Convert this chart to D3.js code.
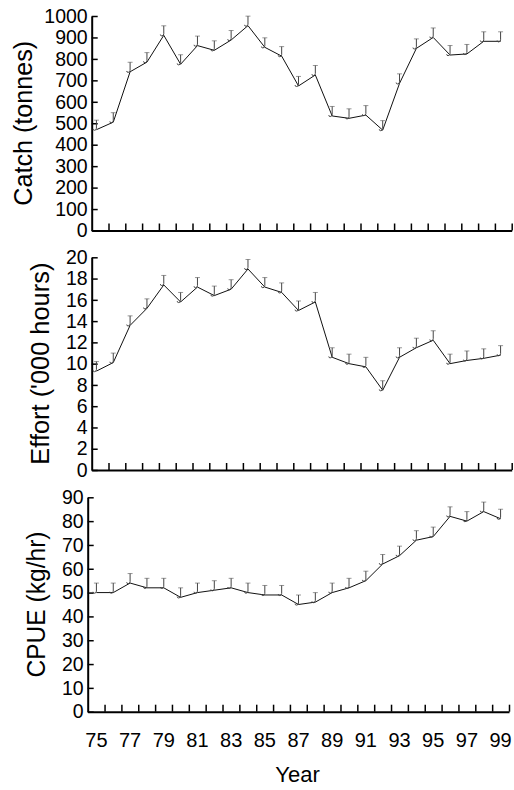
<!DOCTYPE html>
<html>
<head>
<meta charset="utf-8">
<script src="https://cdn.jsdelivr.net/npm/d3@7"></script>
<style>
  body { margin: 0; background: #fff; }
  svg { display: block; font-family: "Liberation Sans", Arial, sans-serif; }
</style>
</head>
<body>
<div id="container"></div>
<script>
// Years (two digit) and the three series
const years = ['75','76','77','78','79','80','81','82','83','84','85','86','87',
               '88','89','90','91','92','93','94','95','96','97','98','99'];
const yearLabels = ['75','77','79','81','83','85','87','89','91','93','95','97','99'];

const catchTonnes = [470, 505, 740, 785, 910, 775, 862, 840, 888, 955, 854, 813, 674,
                     725, 534, 523, 538, 468, 686, 849, 900, 818, 823, 882, 882];
const effortHours = [9.3, 10.1, 13.6, 15.2, 17.4, 15.8, 17.2, 16.4, 17.0, 18.9, 17.2, 16.7, 15.0,
                     15.8, 10.6, 10.0, 9.7, 7.5, 10.6, 11.5, 12.2, 10.0, 10.3, 10.5, 10.8];
const cpueKgHr = [50, 50, 54, 52, 52, 48, 50, 51, 52, 50, 49, 49, 45,
                  46, 50, 52, 55, 62, 65.5, 72, 73.5, 82, 80, 84, 81];

const catchTicks = [0, 100, 200, 300, 400, 500, 600, 700, 800, 900, 1000];
const effortTicks = [0, 2, 4, 6, 8, 10, 12, 14, 16, 18, 20];
const cpueTicks = [0, 10, 20, 30, 40, 50, 60, 70, 80, 90];

const width = 514, height = 790;

const svg = d3.select('#container')
    .append('svg')
    .attr('width', width)
    .attr('height', height);

// shared x scale for the data points (band centres)
const xData = d3.scaleBand().domain(years).range([88, 509]);
const xMid = d => xData(d) + xData.bandwidth() / 2;

const panels = [
    { title: 'Catch (tonnes)', values: catchTonnes, ticks: catchTicks, max: 1000,
      top: 16, bottom: 230.5, left: 91.7, right: 511.7, titleX: 22.5, titleLen: 165 },
    { title: "Effort ('000 hours)", values: effortHours, ticks: effortTicks, max: 20,
      top: 257.3, bottom: 470, left: 91.7, right: 511.7, titleX: 40.2, titleLen: 202 },
    { title: 'CPUE (kg/hr)', values: cpueKgHr, ticks: cpueTicks, max: 90,
      top: 497.3, bottom: 711.7, left: 87.7, right: 509, titleX: 35.8, titleLen: 146 }
];

panels.forEach((p, i) => {
    const g = svg.append('g');
    const y = d3.scaleLinear().domain([0, p.max]).range([p.bottom, p.top]);

    // y axis, ticks pointing inwards
    const yAxis = g.append('g')
        .attr('transform', `translate(${p.left},0)`)
        .call(d3.axisLeft(y).tickValues(p.ticks).tickFormat(d3.format('d'))
            .tickSize(-6).tickSizeOuter(0).tickPadding(4));
    yAxis.select('.domain').attr('stroke-width', 2);
    yAxis.selectAll('.tick line').attr('stroke-width', 1.5);
    yAxis.selectAll('text').attr('font-size', '19.5px').attr('fill', '#000');

    // x axis frame, ticks at the year boundaries
    const xFrame = d3.scaleLinear().domain([0, years.length]).range([p.left, p.right]);
    const xAxis = g.append('g')
        .attr('transform', `translate(0,${p.bottom})`)
        .call(d3.axisBottom(xFrame).tickValues(d3.range(1, years.length + 1))
            .tickSize(-7).tickSizeOuter(0).tickFormat(''));
    xAxis.select('.domain').attr('stroke-width', 2);
    xAxis.selectAll('.tick line').attr('stroke-width', 1.5);

    // year labels only on the bottom panel
    if (i === panels.length - 1) {
        const lab = g.append('g')
            .attr('transform', `translate(0,${p.bottom})`)
            .call(d3.axisBottom(xData).tickValues(yearLabels).tickSize(0).tickPadding(21));
        lab.select('.domain').remove();
        lab.selectAll('text').attr('font-size', '20px').attr('fill', '#000');
    }

    // axis title
    const cy = (p.top + p.bottom) / 2;
    g.append('text')
        .attr('transform', `translate(${p.titleX},${cy}) rotate(-90)`)
        .attr('text-anchor', 'middle')
        .attr('dy', '0.36em')
        .attr('font-size', '25px')
        .attr('textLength', p.titleLen)
        .attr('lengthAdjust', 'spacingAndGlyphs')
        .text(p.title);

    // series line
    const line = d3.line()
        .x((d, j) => xMid(years[j]))
        .y(d => y(d));
    g.append('path')
        .datum(p.values)
        .attr('d', line)
        .attr('fill', 'none')
        .attr('stroke', '#111')
        .attr('stroke-width', 1);

    // "J" shaped upper error markers
    const marks = g.selectAll('.err')
        .data(p.values)
        .enter()
        .append('g')
        .attr('class', 'err')
        .attr('transform', (d, j) => `translate(${xMid(years[j])},${y(d)})`);
    marks.append('path')
        .attr('d', 'M-2.5,-9.5H2.5')
        .attr('stroke', '#999')
        .attr('stroke-width', 1);
    marks.append('path')
        .attr('d', 'M0,-9.5V-1.5Q0,0.6 -2,0.6Q-3.4,0.6 -3.4,-0.8')
        .attr('fill', 'none')
        .attr('stroke', '#444')
        .attr('stroke-width', 1);
});

svg.append('text')
    .attr('x', 297.5)
    .attr('y', 781.7)
    .attr('text-anchor', 'middle')
    .attr('font-size', '22px')
    .text('Year');
</script>
</body>
</html>
